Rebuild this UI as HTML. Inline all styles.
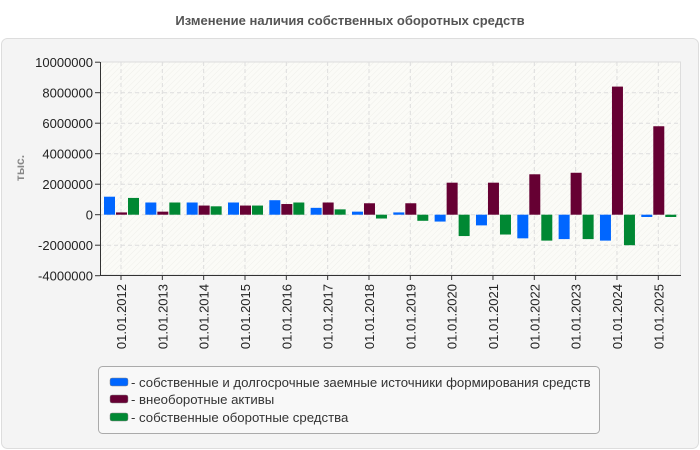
<!DOCTYPE html>
<html><head><meta charset="utf-8"><style>
body{margin:0;background:#fff;}
svg{display:block;font-family:"Liberation Sans",sans-serif;}
</style></head><body>
<svg id="s" width="700" height="450" xmlns="http://www.w3.org/2000/svg">
<defs>
<pattern id="h" width="4" height="4" patternUnits="userSpaceOnUse" patternTransform="rotate(45)">
<rect width="4" height="4" fill="#fbfbf7"/><line x1="0" y1="0" x2="0" y2="4" stroke="#efefea" stroke-width="1"/>
</pattern>
</defs>
<rect x="0" y="0" width="700" height="450" fill="#ffffff"/>
<rect x="1.5" y="38.5" width="697" height="410" rx="6" fill="#f4f4f4" stroke="#dddddd"/>
<text x="350" y="25" text-anchor="middle" font-size="13" font-weight="bold" fill="#555">Изменение наличия собственных оборотных средств</text>
<rect x="100.5" y="62" width="580" height="213" fill="url(#h)" stroke="#dddddd"/>
<g id="g"></g>
<text transform="translate(24,168) rotate(-90)" text-anchor="middle" font-size="12" font-weight="bold" fill="#888">тыс.</text>
<rect x="98.5" y="366.5" width="501" height="67" rx="4" fill="#f8f8f8" stroke="#aaaaaa"/>
<rect x="110" y="378" width="18" height="8" rx="2" fill="#0066ff" stroke="#888" stroke-width="0.5"/>
<text x="131" y="387" font-size="13.2" fill="#333">- собственные и долгосрочные заемные источники формирования средств</text>
<rect x="110" y="395" width="18" height="8" rx="2" fill="#660033" stroke="#888" stroke-width="0.5"/>
<text x="131" y="404" font-size="13.2" fill="#333">- внеоборотные активы</text>
<rect x="110" y="413" width="18" height="8" rx="2" fill="#008833" stroke="#888" stroke-width="0.5"/>
<text x="131" y="422" font-size="13.2" fill="#333">- собственные оборотные средства</text>
</svg>
<script>
var g=document.getElementById('g'),s='';
var z=214.7,k=15.25;
function Y(v){return z-v*k;}
for(var v=-4;v<=10;v+=2){var y=Y(v);
 if(v>-4&&v<10)s+='<line x1="100" x2="680" y1="'+y+'" y2="'+y+'" stroke="#dddddd" stroke-dasharray="4,3"/>';
 s+='<line x1="95" x2="100" y1="'+y+'" y2="'+y+'" stroke="#333"/>';
 s+='<text x="93" y="'+(y+5)+'" text-anchor="end" font-size="13" fill="#222">'+(v*1000000)+'</text>';}
var d=[[1.18,0.15,1.1],[0.8,0.2,0.8],[0.8,0.6,0.55],[0.8,0.6,0.6],[0.95,0.7,0.8],[0.45,0.8,0.35],[0.2,0.75,-0.25],[0.15,0.75,-0.4],[-0.45,2.1,-1.4],[-0.7,2.1,-1.3],[-1.55,2.65,-1.7],[-1.6,2.75,-1.6],[-1.7,8.4,-2.0],[-0.15,5.8,-0.15]];
var c=['#0066ff','#660033','#008833'];
for(var i=0;i<14;i++){var t=121+i*41.33;
 s+='<line x1="'+t+'" x2="'+t+'" y1="62" y2="275" stroke="#dddddd" stroke-dasharray="4,3"/>';
 s+='<line x1="'+t+'" x2="'+t+'" y1="275" y2="280" stroke="#333"/>';
 for(var j=0;j<3;j++){var v=d[i][j],a=Y(Math.max(v,0)),b=Y(Math.min(v,0));
  s+='<rect x="'+(t-17+12*j)+'" y="'+a+'" width="11" height="'+Math.max(b-a,1)+'" fill="'+c[j]+'"/>';}
 s+='<text transform="translate('+(t+5)+',284) rotate(-90)" text-anchor="end" font-size="13" fill="#222">01.01.'+(2012+i)+'</text>';}
s+='<line x1="100.5" x2="100.5" y1="62" y2="275" stroke="#333"/><line x1="100" x2="681" y1="275.5" y2="275.5" stroke="#333"/>';
g.innerHTML=s;
</script>
</body></html>
